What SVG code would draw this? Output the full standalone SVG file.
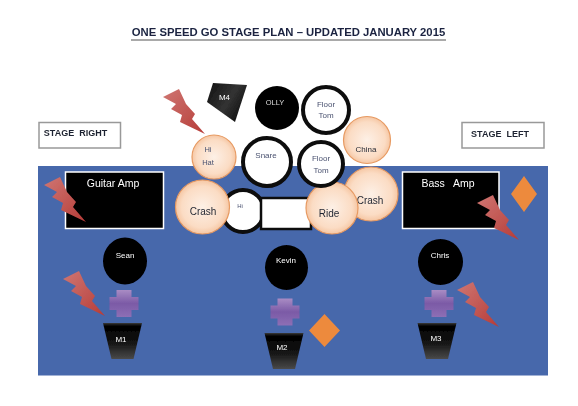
<svg xmlns="http://www.w3.org/2000/svg" width="578" height="406" viewBox="0 0 578 406">
<defs>
<filter id="soft" x="0" y="0" width="578" height="406" filterUnits="userSpaceOnUse"><feGaussianBlur stdDeviation="0.7"/></filter>
<radialGradient id="peach" cx="50%" cy="50%" r="55%"><stop offset="0" stop-color="#fdf0e6"/><stop offset="0.7" stop-color="#fbdcc4"/><stop offset="1" stop-color="#f3bd95"/></radialGradient>
<linearGradient id="mon" x1="0" y1="0" x2="0" y2="1"><stop offset="0" stop-color="#3a3a3a"/><stop offset="0.08" stop-color="#000"/><stop offset="0.55" stop-color="#141414"/><stop offset="1" stop-color="#4a4a4a"/></linearGradient>
<linearGradient id="mon2" x1="0" y1="0" x2="1" y2="0.6"><stop offset="0" stop-color="#111"/><stop offset="0.6" stop-color="#333"/><stop offset="1" stop-color="#111"/></linearGradient>
<linearGradient id="bolt" x1="0" y1="0" x2="1" y2="1"><stop offset="0" stop-color="#cf7672"/><stop offset="1" stop-color="#b63c38"/></linearGradient>
<linearGradient id="cross" x1="0" y1="0" x2="0" y2="1"><stop offset="0" stop-color="#a98cc4"/><stop offset="0.5" stop-color="#7b5aa6"/><stop offset="1" stop-color="#8d6fb5"/></linearGradient>
<path id="b" d="M0 0 L16 -8 L23 7 L32 17 L29 22 L42 37 L17 25 L19 18 L8 12 L13 7 Z" fill="url(#bolt)"/>
<path id="p" d="M-7.500 -13.500 H7.500 V-6.500 H14.500 V6.500 H7.500 V13.500 H-7.500 V6.500 H-14.500 V-6.500 H-7.500 Z" fill="url(#cross)"/>
<path id="m" d="M-19.500 -18 H19.500 L11 18 H-11 Z" fill="url(#mon)"/>
</defs>
<style>
text{font-family:"Liberation Sans",Arial,sans-serif;text-anchor:middle}
.w{fill:#fff}.k{fill:#1f2430}.g{fill:#4a5270}
.t{font-weight:bold;font-size:11.3px;fill:#1a2340}
.s{font-weight:bold;font-size:9px;fill:#1f2430;white-space:pre}
.a{font-size:10.500px;fill:#fff;white-space:pre}
.c10{font-size:10px}.c8{font-size:8px}.c7{font-size:7.500px}.c6{font-size:6px}
.pc{fill:url(#peach);stroke:#e79a62;stroke-width:1.2}
.rc{fill:#fff;stroke:#0a0a0a;stroke-width:4}
.lbl{fill:#fff;stroke:#999;stroke-width:1.5}
.dm{fill:#ed8a3e}
</style>
<rect width="578" height="406" fill="#fff"/>
<g filter="url(#soft)">
<text x="288.500" y="36" class="t">ONE SPEED GO STAGE PLAN – UPDATED JANUARY 2015</text>
<line x1="131" y1="40" x2="446" y2="40" stroke="#555" stroke-width="1"/>
<rect id="stage" x="38" y="166" width="510" height="209.500" fill="#4767ab"/>
<g id="stage-right"><rect class="lbl" x="39" y="122.500" width="81.500" height="25.500"/><text x="75.500" y="136" class="s">STAGE  RIGHT</text></g>
<g id="stage-left"><rect class="lbl" x="462" y="122.500" width="82" height="25.500"/><text x="500" y="136.500" class="s">STAGE  LEFT</text></g>
<g id="amp-left"><rect x="65.500" y="172" width="98" height="56.500" fill="#000" stroke="#fff" stroke-width="1.500"/><text x="113" y="187" class="a">Guitar Amp</text></g>
<g id="amp-right"><rect x="402.500" y="172" width="96.500" height="56.500" fill="#000" stroke="#fff" stroke-width="1.500"/><text x="448" y="187" class="a">Bass   Amp</text></g>
<g id="monitor-top"><path d="M213 83 L247 85 L235 122 L207 102 Z" fill="url(#mon2)"/><text x="224.500" y="100" class="w c8">M4</text></g>
<g id="olly"><circle cx="277" cy="108" r="22" fill="#000"/><text x="275" y="105" class="c7" fill="#ddd">OLLY</text></g>
<g id="floor-tom-1"><circle class="rc" cx="326" cy="110" r="23"/><text x="326" y="107" class="g c8">Floor</text><text x="326" y="117.500" class="g c8">Tom</text></g>
<g id="snare"><circle class="rc" cx="267" cy="162" r="24"/><text x="266" y="158" class="g c8">Snare</text></g>
<g id="kick"><circle class="rc" cx="243" cy="211" r="21"/><text x="240" y="208" class="g c6">Hi</text></g>
<g id="riser"><rect x="261" y="198" width="50" height="31" fill="#fff" stroke="#111" stroke-width="2.500"/></g>
<g id="china"><circle class="pc" cx="367" cy="140" r="23.500"/><text x="366" y="152" class="k c8">China</text></g>
<g id="hi-hat"><circle class="pc" cx="214" cy="157" r="22"/><text x="208" y="152" class="g c7">Hi</text><text x="208" y="165" class="g c7">Hat</text></g>
<g id="crash-right"><circle class="pc" cx="371" cy="194" r="27"/><text x="370" y="204" class="k c10">Crash</text></g>
<g id="ride"><circle class="pc" cx="332" cy="208" r="26"/><text x="329" y="217" class="k c10">Ride</text></g>
<g id="floor-tom-2"><circle class="rc" cx="321" cy="164" r="22"/><text x="321" y="161" class="g c8">Floor</text><text x="321" y="173" class="g c8">Tom</text></g>
<g id="crash-left"><circle class="pc" cx="202.500" cy="207" r="27"/><text x="203" y="215" class="k c10">Crash</text></g>
<g id="sean"><ellipse cx="125" cy="261" rx="22" ry="23.500" fill="#000"/><text x="125" y="258" class="w c8">Sean</text></g>
<g id="kevin"><ellipse cx="286.500" cy="267.500" rx="21.500" ry="22.500" fill="#000"/><text x="286" y="263" class="w c8">Kevin</text></g>
<g id="chris"><ellipse cx="440.500" cy="262" rx="22.500" ry="23" fill="#000"/><text x="440" y="258" class="w c8">Chris</text></g>
<use id="plus-1" href="#p" x="124" y="303.500"/>
<use id="plus-2" href="#p" x="285" y="312"/>
<use id="plus-3" href="#p" x="439" y="303.500"/>
<g id="m1"><use href="#m" x="122.500" y="341"/><text x="121" y="342" class="w c8">M1</text></g>
<g id="m2"><use href="#m" x="284" y="351"/><text x="282" y="350" class="w c8">M2</text></g>
<g id="m3"><use href="#m" x="437" y="341"/><text x="436" y="341" class="w c8">M3</text></g>
<polygon id="d1" class="dm" points="524,176 537,194 524,212 511,194"/>
<polygon id="d2" class="dm" points="324.500,314 340,330.500 324.500,347 309,330.500"/>
<use id="bolt-1" href="#b" x="163" y="97"/>
<use id="bolt-2" href="#b" x="44" y="185"/>
<use id="bolt-3" href="#b" x="63" y="279"/>
<use id="bolt-4" href="#b" x="477" y="203"/>
<use id="bolt-5" href="#b" x="457" y="290"/>
</g>
</svg>
